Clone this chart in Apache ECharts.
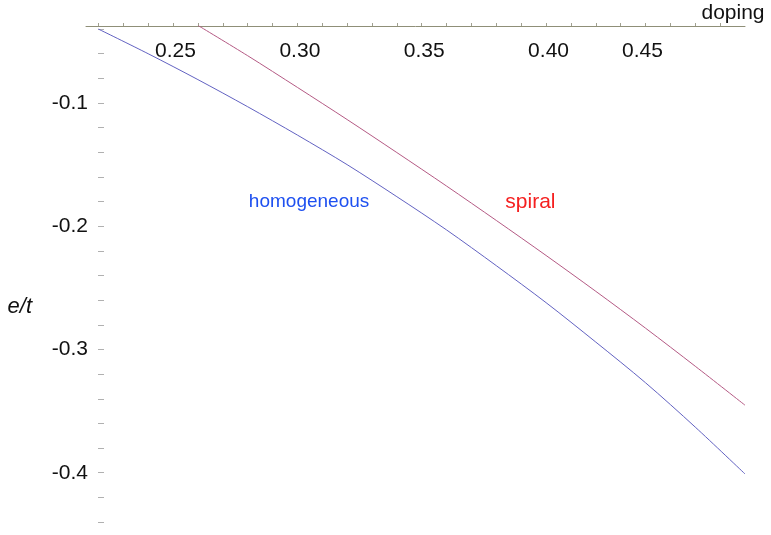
<!DOCTYPE html>
<html>
<head>
<meta charset="utf-8">
<script src="https://cdn.jsdelivr.net/npm/echarts@6/dist/echarts.min.js"></script>
<style>
html,body{margin:0;padding:0;background:#fff;}
#chart{width:771px;height:535px;}
</style>
</head>
<body>
<div id="chart"></div>
<script>
// ---- data ----
var doping = [0.22, 0.24, 0.26, 0.28, 0.30, 0.32, 0.34, 0.36, 0.38, 0.40, 0.42, 0.44, 0.46, 0.48];
var homogeneous = [-0.040, -0.060, -0.081, -0.103, -0.126, -0.150, -0.176, -0.203, -0.232, -0.262, -0.294, -0.327, -0.363, -0.401];
var spiralX = [0.26, 0.28, 0.30, 0.32, 0.34, 0.36, 0.38, 0.40, 0.42, 0.44, 0.46, 0.48];
var spiral = [-0.037, -0.0616, -0.0873, -0.1134, -0.1402, -0.1674, -0.1953, -0.2237, -0.2528, -0.2827, -0.3136, -0.3452];
var xTickLabels = [0.25, 0.30, 0.35, 0.40, 0.45];
var yTickLabels = [-0.1, -0.2, -0.3, -0.4];
var annotHomogeneous = [0.3047, -0.1805];
var annotSpiral = [0.3937, -0.1805];

var FONT = 'Liberation Sans, Arial, sans-serif';
function near(a, b) { return Math.abs(a - b) < 1e-6; }

var chart = echarts.init(document.getElementById('chart'));
chart.setOption({
  animation: false,
  backgroundColor: '#ffffff',
  grid: { left: 86, top: 26, right: 26, height: 496 },
  xAxis: {
    type: 'value',
    position: 'top',
    min: 0.215,
    max: 0.48,
    minInterval: 0.01,
    maxInterval: 0.01,
    splitLine: { show: false },
    axisLine: { onZero: false, lineStyle: { color: '#8f8f78', width: 1 } },
    axisTick: { show: true, inside: false, length: 3, lineStyle: { color: '#a0a090' } },
    axisLabel: {
      inside: true,
      margin: 15,
      showMinLabel: false,
      showMaxLabel: false,
      color: '#111',
      fontFamily: FONT,
      fontSize: 21,
      formatter: function (v) {
        for (var i = 0; i < xTickLabels.length; i++) {
          if (near(v, xTickLabels[i])) {
            var s = xTickLabels[i].toFixed(2);
            return near(v, 0.45) ? '{s|' + s + '}' : '{n|' + s + '}';
          }
        }
        return '';
      },
      rich: {
        n: { fontFamily: FONT, fontSize: 21, color: '#111', padding: [0, 0, 0, 5] },
        s: { fontFamily: FONT, fontSize: 21, color: '#111', padding: [0, 56, 0, 0] }
      }
    },
    name: 'doping',
    nameLocation: 'end',
    nameGap: -12,
    nameTextStyle: { fontFamily: FONT, fontSize: 21, color: '#111', align: 'center', verticalAlign: 'bottom', padding: [0, 0, 2, 0] }
  },
  yAxis: {
    type: 'value',
    min: -0.44,
    max: -0.0375,
    minInterval: 0.02,
    maxInterval: 0.02,
    offset: -12,
    splitLine: { show: false },
    axisLine: { show: false, onZero: false },
    axisTick: { show: true, inside: true, length: 6, lineStyle: { color: '#b0b0b0' } },
    axisLabel: {
      margin: 10,
      color: '#111',
      fontFamily: FONT,
      fontSize: 21,
      showMaxLabel: false,
      formatter: function (v) {
        for (var i = 0; i < yTickLabels.length; i++) {
          if (near(v, yTickLabels[i])) return yTickLabels[i].toFixed(1);
        }
        return '';
      }
    },
    name: '{n|e/t}',
    nameLocation: 'middle',
    nameRotate: 0,
    nameGap: 66,
    nameTextStyle: {
      rich: { n: { fontFamily: FONT, fontSize: 22, fontStyle: 'italic', color: '#111', padding: [66, 0, 0, 0] } }
    }
  },
  series: [
    {
      type: 'line',
      name: 'homogeneous',
      data: doping.map(function (x, i) { return [x, homogeneous[i]]; }),
      showSymbol: false,
      smooth: 0.3,
      clip: true,
      lineStyle: { color: '#6262c2', width: 1 },
      itemStyle: { color: '#6262c2' },
      markPoint: {
        symbol: 'circle',
        symbolSize: 0,
        label: { show: true, position: 'inside', formatter: 'homogeneous', color: '#1e50f0', fontFamily: FONT, fontSize: 19 },
        data: [{ coord: annotHomogeneous }]
      }
    },
    {
      type: 'line',
      name: 'spiral',
      data: spiralX.map(function (x, i) { return [x, spiral[i]]; }),
      showSymbol: false,
      smooth: 0.3,
      clip: true,
      lineStyle: { color: '#b45a84', width: 1 },
      itemStyle: { color: '#b45a84' },
      markPoint: {
        symbol: 'circle',
        symbolSize: 0,
        label: { show: true, position: 'inside', formatter: 'spiral', color: '#f52020', fontFamily: FONT, fontSize: 21 },
        data: [{ coord: annotSpiral }]
      }
    }
  ]
});
</script>
</body>
</html>
